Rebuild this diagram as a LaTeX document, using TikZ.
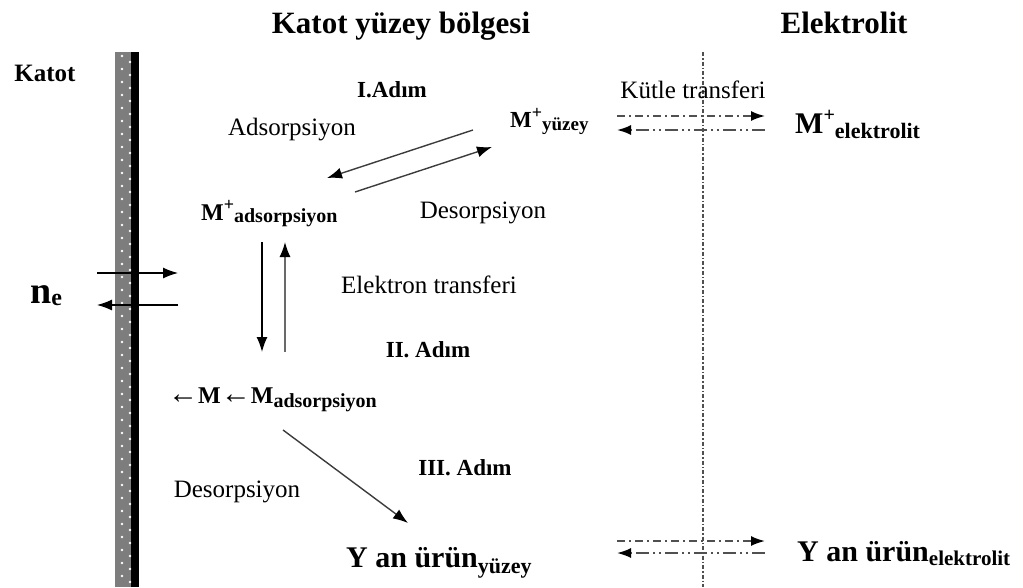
\documentclass[tikz,border=0pt]{standalone}
\usepackage{fontspec}
\setmainfont{Liberation Serif}
\usetikzlibrary{arrows.meta}
\definecolor{katotgrey}{RGB}{125,125,125}
\definecolor{arrowgrey}{RGB}{60,60,60}
\definecolor{upgrey}{RGB}{105,105,105}
\definecolor{flowgrey}{RGB}{80,80,80}
\newcommand{\fs}[1]{\fontsize{#1}{#1}\selectfont}
\newcommand{\ust}[2][18]{\raisebox{0.38em}{\fs{#1}#2}}
\newcommand{\alt}[3][20]{\raisebox{-#2}{\fs{#1}#3}}
\newcommand{\sol}{{\fs{30}\mdseries ←}}

\begin{document}
\begin{tikzpicture}
  [
    x=1pt, y=-1pt,
    baslik/.style={font=\bfseries\fs{31}, inner sep=0pt, anchor=base},
    yazi/.style={font=\fs{25}, inner sep=0pt},
    adim/.style={font=\bfseries\fs{23}, inner sep=0pt},
    tur/.style={font=\bfseries\fs{24}, inner sep=0pt, anchor=base west},
    reaction/.style={line width=1.4pt, arrowgrey, -{Latex[length=15pt,width=11pt,color=black]}},
    flow/.style={line width=1.8pt, flowgrey, -{Latex[length=14pt,width=10pt,color=black]}},
    dashA/.style={dash pattern=on 8pt off 4pt on 2pt off 4pt},
    dashB/.style={dash pattern=on 13pt off 4pt on 2pt off 4pt on 2pt off 4pt}
  ]
  \useasboundingbox (0,0) rectangle (1023,587);

  % katot elektrodu
  \fill[katotgrey] (115,52) rectangle (131,587);
  \fill[black] (131,52) rectangle (139,587);
  \foreach \y in {56,69,...,580} {
    \fill[white] (122,\y) circle[radius=1.3pt];
    \fill[white] (130,\y+6) circle[radius=1.3pt];
  }

  % elektrolit siniri
  \coordinate (sinir1) at (703,52);
  \coordinate (sinir2) at (703,587);
  \draw[line width=1.8pt, flowgrey, dash pattern=on 4pt off 2pt on 1.5pt off 2pt] (sinir1) -- (sinir2);

  % basliklar
  \node[baslik] (bolge) at (401,33) {Katot yüzey bölgesi};
  \node[baslik] (elektrolit) at (844,33) {Elektrolit};
  \node[baslik, font=\bfseries\fs{25}, anchor=center] (katot) at (45,73) {Katot};

  % turler
  \node[tur, font=\bfseries\fs{23}] (myuzey) at (510,127) {M\ust{+}\alt[19]{3pt}{yüzey}};
  \node[tur, font=\bfseries\fs{30}] (melektrolit) at (795,133) {M\ust[20]{+}\alt[22]{5pt}{elektrolit}};
  \node[tur] (madsorp) at (201,220) {M\ust{+}\alt[20]{2pt}{adsorpsiyon}};
  \node[tur] (mmetal) at (168,403) {\sol M\sol M\alt[20]{4pt}{adsorpsiyon}};
  \node[tur, font=\bfseries\fs{30}] (yanyuzey) at (346,567) {Y an ürün\alt[22]{6pt}{yüzey}};
  \node[tur, font=\bfseries\fs{30}] (yanelektrolit) at (797,561) {Y an ürün\alt[21]{4pt}{elektrolit}};
  \node[tur, font=\bfseries\fs{38}] (ne) at (30,303) {n\alt[24]{2pt}{e}};

  % aciklamalar
  \node[adim] (adim1) at (392,90) {I.Adım};
  \node[adim] (adim2) at (428,350) {II. Adım};
  \node[adim] (adim3) at (465,468) {III. Adım};
  \node[yazi] (adsorpsiyon) at (292,130) {Adsorpsiyon};
  \node[yazi] (kutle) at (693,90) {Kütle transferi};
  \node[yazi] (desorpsiyon1) at (483,213) {Desorpsiyon};
  \node[yazi] (elektron) at (429,285) {Elektron transferi};
  \node[yazi] (desorpsiyon2) at (237,492) {Desorpsiyon};

  % I. adim oklari
  \coordinate (ads1) at (473,130);
  \coordinate (ads2) at (327,178);
  \coordinate (des1) at (355,192);
  \coordinate (des2) at (492,147);
  \draw[reaction] (ads1) -- (ads2);
  \draw[reaction] (des1) -- (des2);

  % II. adim oklari
  \coordinate (et1) at (262,242);
  \coordinate (et2) at (262,352);
  \coordinate (et3) at (285,352);
  \coordinate (et4) at (285,242);
  \draw[reaction, black] (et1) -- (et2);
  \draw[reaction, upgrey] (et3) -- (et4);

  % elektronlar
  \coordinate (ne1) at (97,273);
  \coordinate (ne2) at (178,273);
  \coordinate (ne3) at (178,305);
  \coordinate (ne4) at (97,305);
  \draw[reaction, black, line width=1.2pt] (ne1) -- (ne2);
  \draw[reaction, black, line width=1.2pt] (ne3) -- (ne4);

  % III. adim
  \coordinate (yan1) at (283,430);
  \coordinate (yan2) at (408,523);
  \draw[reaction] (yan1) -- (yan2);

  % kutle transferi
  \coordinate (kt1) at (617,116);
  \coordinate (kt2) at (765,116);
  \coordinate (kt3) at (765,130);
  \coordinate (kt4) at (617,130);
  \draw[flow, dashA] (kt1) -- (kt2);
  \draw[flow, dashB] (kt3) -- (kt4);

  \coordinate (kt5) at (617,541);
  \coordinate (kt6) at (765,541);
  \coordinate (kt7) at (765,553);
  \coordinate (kt8) at (617,553);
  \draw[flow, dashA] (kt5) -- (kt6);
  \draw[flow, dashB] (kt7) -- (kt8);
\end{tikzpicture}
\end{document}
